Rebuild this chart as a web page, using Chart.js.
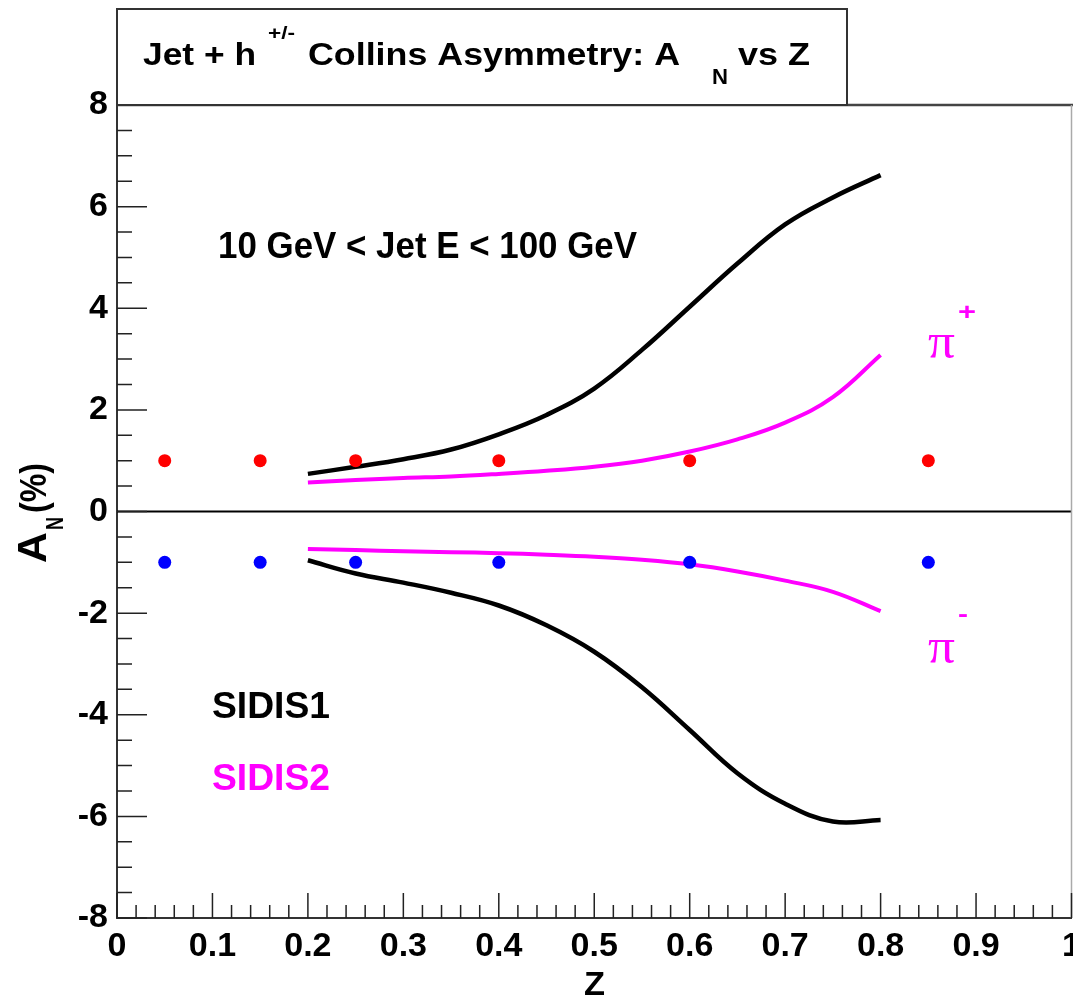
<!DOCTYPE html>
<html lang="en">
<head>
<meta charset="UTF-8">
<title>Jet + h Collins Asymmetry</title>
<script src="https://cdn.jsdelivr.net/npm/chart.js@4.4.1/dist/chart.umd.min.js"></script>
<style>
  body { margin: 0; background: #fff; overflow: hidden; }
</style>
</head>
<body>
<canvas id="myChart" width="1078" height="995"></canvas>
<script>
// curve grid in Z
const zGrid = [0.2, 0.25, 0.3, 0.35, 0.4, 0.45, 0.5, 0.55, 0.6, 0.65, 0.7, 0.75, 0.8];
const sidis1PiPlus  = [0.74, 0.88, 1.03, 1.22, 1.52, 1.90, 2.42, 3.18, 4.03, 4.88, 5.65, 6.18, 6.62];
const sidis2PiPlus  = [0.57, 0.62, 0.66, 0.69, 0.74, 0.80, 0.88, 1.00, 1.18, 1.42, 1.75, 2.25, 3.08];
const sidis1PiMinus = [-0.96, -1.22, -1.40, -1.60, -1.85, -2.24, -2.76, -3.46, -4.30, -5.15, -5.75, -6.10, -6.07];
const sidis2PiMinus = [-0.74, -0.76, -0.78, -0.80, -0.82, -0.85, -0.89, -0.95, -1.04, -1.18, -1.36, -1.58, -1.96];

// projected points
const pointZ = [0.05, 0.15, 0.25, 0.4, 0.6, 0.85];
const plusPoints  = [1, 1, 1, 1, 1, 1];
const minusPoints = [-1, -1, -1, -1, -1, -1];

const xMin = 0, xMax = 1, xStep = 0.1;
const yMin = -8, yMax = 8, yStep = 2;

function pairs(xs, ys) {
  return xs.map((x, i) => ({ x: x, y: ys[i] }));
}

function curve(label, ys, color, width) {
  return {
    label: label,
    data: pairs(zGrid, ys),
    showLine: true,
    borderColor: color,
    borderWidth: width,
    pointRadius: 0,
    tension: 0.4,
    fill: false
  };
}

function fitText(ctx, str, font, x, base, width, color) {
  ctx.save();
  ctx.font = font;
  ctx.fillStyle = color;
  ctx.textAlign = 'left';
  ctx.textBaseline = 'alphabetic';
  const w = ctx.measureText(str).width;
  ctx.translate(x, base);
  ctx.scale(width / w, 1);
  ctx.fillText(str, 0, 0);
  ctx.restore();
}

// ROOT style frame, inside ticks, zero line, labels
const rootStyle = {
  id: 'rootStyle',
  beforeDatasetsDraw(chart) {
    const { ctx, chartArea: a, scales: { y } } = chart;
    const y0 = y.getPixelForValue(0);
    ctx.save();
    ctx.strokeStyle = '#000';
    ctx.lineWidth = 2;
    ctx.beginPath();
    ctx.moveTo(a.left, y0);
    ctx.lineTo(a.right, y0);
    ctx.stroke();
    ctx.restore();
  },
  afterDraw(chart) {
    const { ctx, chartArea: a, scales: { x, y } } = chart;
    ctx.save();
    // top and right frame
    ctx.strokeStyle = '#444';
    ctx.lineWidth = 2.5;
    ctx.beginPath();
    ctx.moveTo(a.left, a.top);
    ctx.lineTo(a.right + 2, a.top);
    ctx.stroke();
    ctx.strokeStyle = '#aaa';
    ctx.lineWidth = 1.5;
    ctx.beginPath();
    ctx.moveTo(a.right, a.top);
    ctx.lineTo(a.right, a.bottom);
    ctx.stroke();

    // ticks
    ctx.strokeStyle = '#222';
    ctx.lineWidth = 1.5;
    ctx.beginPath();
    for (let i = 0; i <= 50; i++) {
      const px = x.getPixelForValue(i / 50);
      const len = i % 5 === 0 ? 25 : 13;
      ctx.moveTo(px, a.bottom);
      ctx.lineTo(px, a.bottom - len);
    }
    for (let i = 0; i <= 32; i++) {
      const py = y.getPixelForValue(yMin + i * 0.5);
      const len = i % 4 === 0 ? 30 : 15;
      ctx.moveTo(a.left, py);
      ctx.lineTo(a.left + len, py);
    }
    ctx.stroke();

    // title box
    ctx.fillStyle = '#fff';
    ctx.fillRect(117, 9, 730, 96);
    ctx.strokeStyle = '#333';
    ctx.lineWidth = 2;
    ctx.strokeRect(117, 9, 730, 96);
    const bold = 'bold 31px "Liberation Sans", Arial, sans-serif';
    fitText(ctx, 'Jet + h', bold, 143, 65, 113, '#000');
    fitText(ctx, '+/-', 'bold 18px "Liberation Sans", Arial, sans-serif', 268, 39, 27, '#000');
    fitText(ctx, 'Collins Asymmetry: A', bold, 308, 65, 372, '#000');
    fitText(ctx, 'N', 'bold 22px "Liberation Sans", Arial, sans-serif', 712, 84, 16, '#000');
    fitText(ctx, 'vs Z', bold, 738, 65, 72, '#000');

    // annotations
    fitText(ctx, '10 GeV < Jet E < 100 GeV', 'bold 36px "Liberation Sans", Arial, sans-serif', 218, 258, 419, '#000');
    fitText(ctx, 'SIDIS1', 'bold 37px "Liberation Sans", Arial, sans-serif', 212, 718, 118, '#000');
    fitText(ctx, 'SIDIS2', 'bold 37px "Liberation Sans", Arial, sans-serif', 212, 790, 118, '#ff00ff');
    fitText(ctx, 'π', '50px "Liberation Serif", serif', 928, 358, 27, '#ff00ff');
    fitText(ctx, '+', 'bold 24px "Liberation Sans", Arial, sans-serif', 958, 320, 18, '#ff00ff');
    fitText(ctx, 'π', '50px "Liberation Serif", serif', 928, 663, 27, '#ff00ff');
    fitText(ctx, '-', 'bold 24px "Liberation Sans", Arial, sans-serif', 958, 622, 10, '#ff00ff');

    // axis titles
    fitText(ctx, 'Z', 'bold 34px "Liberation Sans", Arial, sans-serif', 584, 995, 21, '#000');
    ctx.save();
    ctx.translate(46, 563);
    ctx.rotate(-Math.PI / 2);
    fitText(ctx, 'A', 'bold 40px "Liberation Sans", Arial, sans-serif', 0, 0, 31, '#000');
    fitText(ctx, 'N', 'bold 24px "Liberation Sans", Arial, sans-serif', 33, 17, 13, '#000');
    fitText(ctx, '(%)', 'bold 36px "Liberation Sans", Arial, sans-serif', 50, 0, 50, '#000');
    ctx.restore();
    ctx.restore();
  }
};

const tickFont = { family: '"Liberation Sans", Arial, sans-serif', size: 34, weight: 'bold' };

new Chart(document.getElementById('myChart'), {
  type: 'scatter',
  data: {
    datasets: [
      {
        label: 'pi+ projection',
        data: pairs(pointZ, plusPoints),
        pointRadius: 6.5,
        pointBorderWidth: 0,
        backgroundColor: '#ff0000',
        borderColor: '#ff0000'
      },
      {
        label: 'pi- projection',
        data: pairs(pointZ, minusPoints),
        pointRadius: 6.5,
        pointBorderWidth: 0,
        backgroundColor: '#0000ff',
        borderColor: '#0000ff'
      },
      curve('SIDIS1 pi+', sidis1PiPlus, '#000', 4.5),
      curve('SIDIS1 pi-', sidis1PiMinus, '#000', 4.5),
      curve('SIDIS2 pi+', sidis2PiPlus, '#ff00ff', 4),
      curve('SIDIS2 pi-', sidis2PiMinus, '#ff00ff', 4)
    ]
  },
  options: {
    responsive: false,
    animation: false,
    layout: { padding: { top: 105, right: 0, left: 0, bottom: 0 } },
    plugins: { legend: { display: false }, tooltip: { enabled: false } },
    scales: {
      x: {
        type: 'linear',
        min: xMin,
        max: xMax,
        grid: { display: false, drawTicks: false },
        border: { display: true, color: '#333', width: 2 },
        ticks: {
          stepSize: xStep,
          autoSkip: false,
          maxRotation: 0,
          padding: 8,
          color: '#000',
          font: tickFont,
          callback: v => Math.round(v * 10) / 10
        },
        afterFit: s => { s.height = 77; s.paddingLeft = 0; s.paddingRight = 0; }
      },
      y: {
        type: 'linear',
        min: yMin,
        max: yMax,
        grid: { display: false, drawTicks: false },
        border: { display: true, color: '#333', width: 2 },
        ticks: {
          stepSize: yStep,
          padding: 9,
          color: '#000',
          font: tickFont
        },
        afterFit: s => { s.width = 117; s.paddingTop = 0; s.paddingBottom = 0; }
      }
    }
  },
  plugins: [rootStyle]
});
</script>
</body>
</html>
